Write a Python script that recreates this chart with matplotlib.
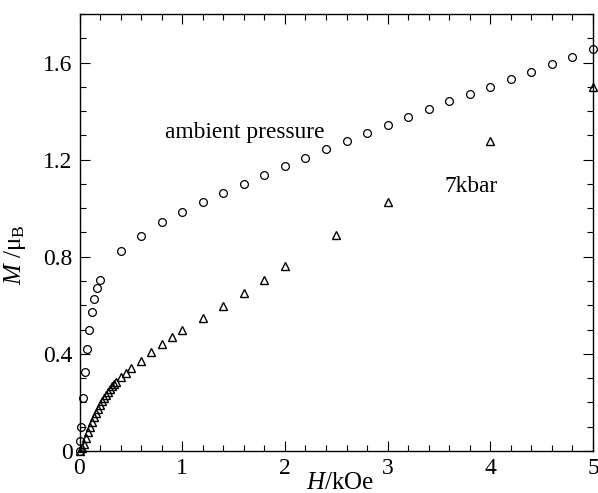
import matplotlib
matplotlib.use("Agg")
import matplotlib.pyplot as plt
from matplotlib.ticker import MultipleLocator, FixedLocator

plt.rcParams['font.family'] = ['Liberation Serif', 'DejaVu Serif']
plt.rcParams['mathtext.fontset'] = 'custom'
plt.rcParams['mathtext.rm'] = 'Liberation Serif'
plt.rcParams['mathtext.it'] = 'Liberation Serif:italic'

# ambient pressure (circles)
H_amb = [0.0, 0.0, 0.01, 0.03, 0.055, 0.07, 0.09, 0.12, 0.14, 0.17, 0.20,
         0.4, 0.6, 0.8, 1.0, 1.2, 1.4, 1.6, 1.8, 2.0, 2.2, 2.4, 2.6, 2.8,
         3.0, 3.2, 3.4, 3.6, 3.8, 4.0, 4.2, 4.4, 4.6, 4.8, 5.0]
M_amb = [0.0, 0.04, 0.10, 0.22, 0.325, 0.42, 0.50, 0.573, 0.628, 0.67, 0.703,
         0.824, 0.884, 0.942, 0.984, 1.026, 1.064, 1.101, 1.135, 1.172, 1.207,
         1.242, 1.278, 1.311, 1.344, 1.377, 1.408, 1.44, 1.471, 1.501, 1.532,
         1.563, 1.593, 1.622, 1.654]

# 7 kbar (triangles)
H_7k = [0.0, 0.02, 0.04, 0.06, 0.08, 0.10, 0.12, 0.14, 0.16, 0.18, 0.20,
        0.22, 0.24, 0.26, 0.28, 0.30, 0.32, 0.34, 0.36, 0.40, 0.45, 0.50,
        0.6, 0.7, 0.8, 0.9, 1.0, 1.2, 1.4, 1.6, 1.8, 2.0, 2.5, 3.0, 4.0, 5.0]
M_7k = [0.0, 0.012, 0.03, 0.055, 0.08, 0.10, 0.12, 0.14, 0.158, 0.175, 0.19,
        0.205, 0.22, 0.232, 0.245, 0.256, 0.266, 0.276, 0.286, 0.303, 0.32,
        0.34, 0.372, 0.408, 0.439, 0.468, 0.498, 0.548, 0.596, 0.649, 0.706,
        0.761, 0.891, 1.026, 1.277, 1.50]

xticks = [0, 1, 2, 3, 4, 5]
xticklabels = ['0', '1', '2', '3', '4', '5']
yticks = [0, 0.4, 0.8, 1.2, 1.6]
yticklabels = ['0', '0.4', '0.8', '1.2', '1.6']

fig = plt.figure(figsize=(5.98, 4.93), dpi=100)
ax = fig.add_axes([79.5/598, 1-451/493, (593-79.5)/598, (451-14)/493])

ax.plot(H_amb, M_amb, linestyle='none', marker='o', markersize=5.6,
        markerfacecolor='none', markeredgecolor='black', markeredgewidth=0.9,
        clip_on=False)
ax.plot(H_7k, M_7k, linestyle='none', marker='^', markersize=5.4,
        markerfacecolor='none', markeredgecolor='black', markeredgewidth=1.0,
        clip_on=False)

ax.set_xlim(0, 5)
ax.set_ylim(0, 1.8)
ax.xaxis.set_major_locator(FixedLocator(xticks))
ax.set_xticklabels(xticklabels)
ax.yaxis.set_major_locator(FixedLocator(yticks))
ax.set_yticklabels(yticklabels)
ax.xaxis.set_minor_locator(MultipleLocator(0.2))
ax.yaxis.set_minor_locator(MultipleLocator(0.1))
ax.tick_params(which='both', direction='in', top=True, right=True, width=0.8)
ax.tick_params(which='major', length=7, labelsize=17, pad=5)
ax.tick_params(which='minor', length=4)
for s in ax.spines.values():
    s.set_linewidth(1.0)

ax.set_xlabel(r'$H$/kOe', fontsize=18)
ax.xaxis.set_label_coords(0.508, -0.047)
ax.set_ylabel(r'$M$ /μ$_{\rm B}$', fontsize=18)
ax.yaxis.set_label_coords(-0.10, 0.45)

ax.text(0.83, 1.29, 'ambient pressure', fontsize=16.8)
ax.text(3.55, 1.065, '7kbar', fontsize=16.8)

fig.savefig('out.png', dpi=100)
